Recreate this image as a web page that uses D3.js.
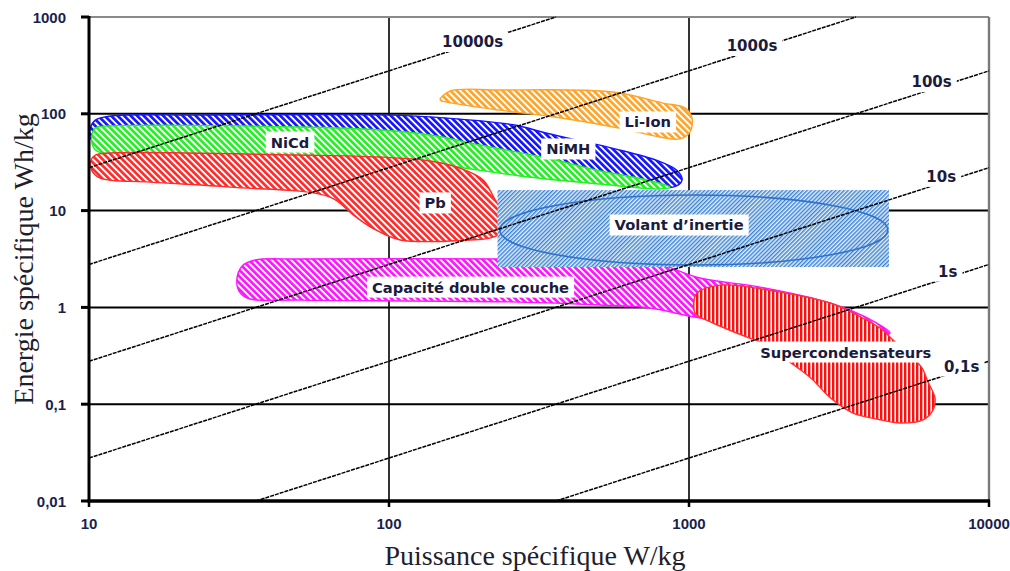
<!DOCTYPE html>
<html><head><meta charset="utf-8">
<script src="https://cdn.jsdelivr.net/npm/d3@7"></script>
<style>body{margin:0;background:#fff}svg{display:block}</style>
</head><body>
<svg id="chart" width="1010" height="571"></svg>
<script>
// ---- data ----
const xTicks = [10, 100, 1000, 10000];
const xTickLabels = ["10", "100", "1000", "10000"];
const yTicks = [0.01, 0.1, 1, 10, 100, 1000];
const yTickLabels = ["0,01", "0,1", "1", "10", "100", "1000"];

const timeSeconds = [10000, 1000, 100, 10, 1, 0.1];
const timeLabels = ["10000s", "1000s", "100s", "10s", "1s", "0,1s"];
const timeLabelPos = [[190, 552], [1622, 501], [6437, 212], [6930, 22.3], [7287, 2.34], [8110, 0.245]];

// outlines as [W/kg, Wh/kg]
const nimh = [[10.1,71],[10.5,86],[11.8,95],[23,97],[100,97],[137,93],[259,77],[336,63],[558,44],[782,33],[912,26],[948,20.7],[885,17.5],[505,22.8],[201,33],[101,42],[23,47.6],[10.2,53.6]];
const nicd = [[10.5,71.3],[11.8,74.8],[50,73],[93,68],[137,60.4],[201,47.6],[336,34.9],[493,26.2],[724,20.7],[865,17.5],[800,16.7],[505,18.8],[273,22.8],[160,28.9],[93,34.9],[50,36.6],[16,39.4],[10.6,41.3],[10.2,53.6]];
const pb = [[10.5,37.5],[11.8,39.4],[50,37.5],[93,35.8],[137,32.5],[172,27.5],[206,20.7],[226,12.9],[244,9.0],[238,6.0],[217,5.2],[186,4.97],[109,4.97],[88,6.6],[76,9.0],[63.6,13.8],[29.5,17.5],[16,19.7],[10.9,21.7],[10.2,26.2],[10.15,33]];
const liion = [[148,139],[160,172],[234,176],[558,168],[819,129],[970,115],[1023,91],[1008,65],[933,55],[800,57.5],[589,71],[371,91],[234,109],[163,129]];
const edlc = [[31.1,1.92],[32.4,2.68],[35.8,3.09],[50.5,3.16],[234,3.16],[741,2.94],[1088,2.01],[1725,1.62],[2951,1.11],[4169,0.706],[4677,0.544],[4011,0.506],[2344,0.612],[1088,0.777],[741,0.986],[505,1.06],[253,1.14],[50.5,1.19],[34.4,1.22],[31.9,1.41]];
const supercap = [[1063,1.41],[1268,1.70],[2011,1.44],[2951,1.11],[3521,0.875],[4333,0.612],[4786,0.461],[5456,0.322],[5980,0.237],[6260,0.17],[6607,0.116],[6505,0.087],[6026,0.069],[5050,0.064],[4333,0.069],[3521,0.081],[3112,0.103],[2884,0.125],[2590,0.178],[2307,0.237],[1982,0.33],[1725,0.44],[1561,0.494],[1202,0.69],[1047,0.875],[1039,1.19]];
const flywheelBox = [230, 4640, 2.61, 16.3];      // Pmin, Pmax, Emin, Emax
const flywheelEllipse = [234, 4600, 2.74, 14.5];

const regionLabels = ["NiCd", "NiMH", "Li-Ion", "Pb", "Volant d\u2019inertie", "Capacité double couche", "Supercondensateurs"];
const regionLabelPos = [[46.8,51.1],[396,43.3],[729,82.3],[142.6,12.0],[927,7.1],[187,1.62],[3331,0.346]];

// ---- chart ----
const svg = d3.select("#chart");
const x = d3.scaleLog().domain([10, 10000]).range([89, 989]);
const y = d3.scaleLog().domain([0.01, 1000]).range([501, 17]);
const defs = svg.append("defs");

function hatch(id, color, angle, period, stripe, bg) {
  const p = defs.append("pattern").attr("id", id).attr("patternUnits", "userSpaceOnUse")
    .attr("width", period).attr("height", period).attr("patternTransform", `rotate(${angle})`);
  p.append("rect").attr("width", period).attr("height", period).attr("fill", bg);
  p.append("rect").attr("width", stripe).attr("height", period).attr("fill", color);
}
hatch("hBlue", "#1414ff", -45, 4.6, 2.7, "#fff");
hatch("hGreen", "#22f022", -45, 4.6, 2.7, "#fff");
hatch("hRed", "#ff2a2a", -45, 4.6, 2.7, "#fff");
hatch("hOrange", "#ffa42a", -45, 4.6, 2.7, "#fff");
hatch("hMag", "#ff14ff", -45, 4.6, 2.7, "#fff");
hatch("hVert", "#ff1010", 0, 4, 2.4, "#fff");
hatch("hFly", "#3a82d4", 45, 2.9, 1.4, "#e4eefa");

// gridlines
const g = svg.append("g");
g.selectAll(".hg").data(yTicks.filter(d => d > 0.01 && d < 1000)).join("line")
  .attr("x1", x(10)).attr("x2", x(10000)).attr("y1", d => y(d)).attr("y2", d => y(d))
  .attr("stroke", "#000").attr("stroke-width", 2);
g.selectAll(".vg").data([100, 1000]).join("line")
  .attr("x1", d => x(d)).attr("x2", d => x(d)).attr("y1", y(1000)).attr("y2", y(0.01))
  .attr("stroke", "#000").attr("stroke-width", 1.6);
// top & right border
g.append("line").attr("x1", x(10)).attr("x2", x(10000)).attr("y1", y(1000)).attr("y2", y(1000))
  .attr("stroke", "#8a8a8a").attr("stroke-width", 2.2);
g.append("line").attr("x1", x(10000)).attr("x2", x(10000)).attr("y1", y(1000)).attr("y2", y(0.01))
  .attr("stroke", "#7a7a7a").attr("stroke-width", 2.4);

// regions
const line = d3.line().x(d => x(d[0])).y(d => y(d[1])).curve(d3.curveCatmullRomClosed.alpha(0.5));
function region(data, fill, stroke) {
  svg.append("path").attr("d", line(data)).attr("fill", `url(#${fill})`)
    .attr("stroke", stroke).attr("stroke-width", 1.4);
}
region(nimh, "hBlue", "#1414ff");
region(nicd, "hGreen", "#22f022");
region(pb, "hRed", "#ff2a2a");
region(liion, "hOrange", "#ffa42a");
region(edlc, "hMag", "#ff14ff");
svg.append("rect").attr("x", x(flywheelBox[0])).attr("y", y(flywheelBox[3]))
  .attr("width", x(flywheelBox[1]) - x(flywheelBox[0])).attr("height", y(flywheelBox[2]) - y(flywheelBox[3]))
  .attr("fill", "url(#hFly)");
svg.append("ellipse")
  .attr("cx", (x(flywheelEllipse[0]) + x(flywheelEllipse[1])) / 2)
  .attr("cy", (y(flywheelEllipse[2]) + y(flywheelEllipse[3])) / 2)
  .attr("rx", (x(flywheelEllipse[1]) - x(flywheelEllipse[0])) / 2)
  .attr("ry", (y(flywheelEllipse[2]) - y(flywheelEllipse[3])) / 2)
  .attr("fill", "none").attr("stroke", "#2f72cc").attr("stroke-width", 1.6);
region(supercap, "hVert", "#ff3030");

// constant-time lines  E[Wh/kg] = P[W/kg] * t / 3600
timeSeconds.forEach(t => {
  const k = t / 3600;
  let p0 = 10, p1 = 10000;
  if (p0 * k < 0.01) p0 = 0.01 / k;
  if (p1 * k > 1000) p1 = 1000 / k;
  svg.append("line").attr("x1", x(p0)).attr("y1", y(p0 * k)).attr("x2", x(p1)).attr("y2", y(p1 * k))
    .attr("stroke", "#000").attr("stroke-width", 1.5).attr("stroke-dasharray", "4,1");
});

function boxedText(txt, cx, cy, size, padX, padY, color) {
  const gg = svg.append("g");
  const r = gg.append("rect").attr("fill", "#fff");
  const tx = gg.append("text").attr("x", cx).attr("y", cy).attr("text-anchor", "middle")
    .attr("dominant-baseline", "central").attr("font-family", "DejaVu Sans").attr("font-weight", "bold")
    .attr("font-size", size).attr("fill", color).text(txt);
  const b = tx.node().getBBox();
  r.attr("x", b.x - padX).attr("y", b.y - padY).attr("width", b.width + 2 * padX).attr("height", b.height + 2 * padY);
}
timeSeconds.forEach((t, i) => {
  const [p, e] = timeLabelPos[i];
  boxedText(timeLabels[i], x(p), y(e), 15, 5, 1, "#1b1b3d");
});
regionLabels.forEach((s, i) => {
  const [p, e] = regionLabelPos[i];
  boxedText(s, x(p), y(e), 14.7, 5, 2, "#1b1b3d");
});

// axes
svg.append("line").attr("x1", x(10)).attr("x2", x(10)).attr("y1", y(1000) - 1).attr("y2", y(0.01) + 1.5)
  .attr("stroke", "#000").attr("stroke-width", 3);
svg.append("line").attr("x1", x(10) - 1.5).attr("x2", x(10000) + 1).attr("y1", y(0.01)).attr("y2", y(0.01))
  .attr("stroke", "#000").attr("stroke-width", 3.4);
svg.selectAll(".yt").data(yTicks).join("line")
  .attr("x1", x(10) - 8).attr("x2", x(10)).attr("y1", d => y(d)).attr("y2", d => y(d))
  .attr("stroke", "#000").attr("stroke-width", 3);
svg.selectAll(".xt").data(xTicks).join("line")
  .attr("x1", d => x(d)).attr("x2", d => x(d)).attr("y1", y(0.01)).attr("y2", y(0.01) + 6)
  .attr("stroke", "#000").attr("stroke-width", 2.5);
svg.selectAll(".ytl").data(yTicks).join("text")
  .attr("x", 66).attr("y", d => y(d)).attr("text-anchor", "end").attr("dominant-baseline", "central")
  .attr("font-family", "Liberation Sans, Arial").attr("font-weight", "bold").attr("font-size", 15)
  .attr("fill", "#1a1f4d").text((d, i) => yTickLabels[i]);
svg.selectAll(".xtl").data(xTicks).join("text")
  .attr("x", d => x(d)).attr("y", 523).attr("text-anchor", "middle").attr("dominant-baseline", "central")
  .attr("font-family", "Liberation Sans, Arial").attr("font-weight", "bold").attr("font-size", 15)
  .attr("fill", "#1a1f4d").text((d, i) => xTickLabels[i]);

svg.append("text").attr("x", 535).attr("y", 565).attr("text-anchor", "middle")
  .attr("font-family", "Liberation Serif, Times New Roman").attr("font-size", 28).attr("fill", "#1e1e2e")
  .text("Puissance spécifique W/kg");
svg.append("text").attr("transform", "translate(33,259) rotate(-90)").attr("text-anchor", "middle")
  .attr("font-family", "Liberation Serif, Times New Roman").attr("font-size", 28).attr("fill", "#1e1e2e")
  .text("Energie spécifique Wh/kg");
</script>
</body></html>
